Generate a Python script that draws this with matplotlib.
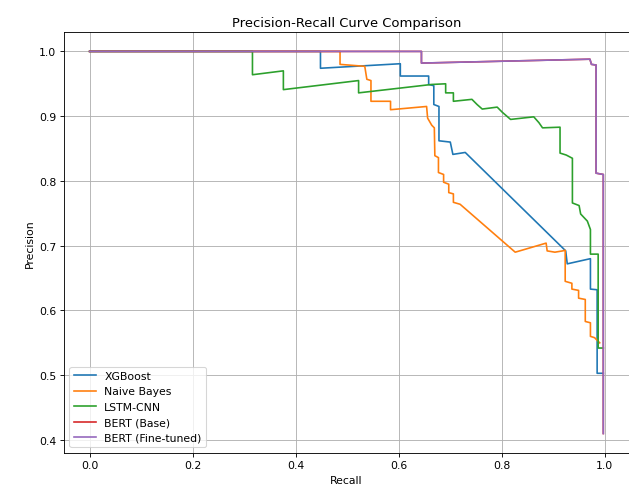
import matplotlib
matplotlib.use("Agg")
import matplotlib.pyplot as plt

# data (recall, precision pairs)
xgb_recall = [0.0, 0.448, 0.448, 0.603, 0.603, 0.658, 0.658, 0.668, 0.668, 0.678, 0.678,
              0.700, 0.705, 0.729, 0.924, 0.927, 0.972, 0.972, 0.985, 0.985, 0.997]
xgb_precision = [1.0, 1.0, 0.974, 0.981, 0.962, 0.962, 0.949, 0.947, 0.918, 0.915, 0.862,
                 0.860, 0.841, 0.844, 0.692, 0.672, 0.680, 0.633, 0.632, 0.503, 0.503]

nb_recall = [0.0, 0.486, 0.486, 0.534, 0.538, 0.546, 0.546, 0.584, 0.584, 0.654, 0.656,
             0.664, 0.669, 0.670, 0.677, 0.677, 0.687, 0.687, 0.697, 0.697, 0.706, 0.706,
             0.719, 0.826, 0.886, 0.888, 0.903, 0.918, 0.923, 0.923, 0.936, 0.936, 0.949,
             0.949, 0.962, 0.962, 0.972, 0.972, 0.980, 0.990]
nb_precision = [1.0, 1.0, 0.980, 0.977, 0.957, 0.955, 0.923, 0.923, 0.910, 0.915, 0.897,
                0.886, 0.882, 0.839, 0.836, 0.813, 0.810, 0.798, 0.795, 0.782, 0.780, 0.767,
                0.764, 0.690, 0.704, 0.692, 0.690, 0.692, 0.693, 0.645, 0.642, 0.633, 0.631,
                0.619, 0.617, 0.583, 0.581, 0.560, 0.558, 0.550]

lstm_recall = [0.0, 0.316, 0.316, 0.376, 0.376, 0.522, 0.522, 0.664, 0.691, 0.691, 0.706,
               0.706, 0.742, 0.752, 0.762, 0.791, 0.801, 0.817, 0.862, 0.872, 0.879, 0.913,
               0.913, 0.925, 0.937, 0.937, 0.950, 0.953, 0.966, 0.972, 0.972, 0.987, 0.987,
               0.997]
lstm_precision = [1.0, 1.0, 0.964, 0.970, 0.941, 0.955, 0.936, 0.949, 0.950, 0.936, 0.936,
                  0.923, 0.926, 0.918, 0.911, 0.914, 0.906, 0.895, 0.899, 0.890, 0.882, 0.883,
                  0.843, 0.840, 0.835, 0.766, 0.762, 0.749, 0.738, 0.725, 0.687, 0.687, 0.542,
                  0.542]

bert_ft_recall = [0.0, 0.644, 0.644, 0.971, 0.974, 0.983, 0.983, 0.997, 0.997]
bert_ft_precision = [1.0, 1.0, 0.982, 0.988, 0.980, 0.979, 0.812, 0.810, 0.41]

# base model curve sits underneath the fine-tuned one
bert_base_recall = list(bert_ft_recall)
bert_base_precision = list(bert_ft_precision)

fig = plt.figure(figsize=(8, 6.2575), dpi=78.625)
ax = fig.add_axes([0.1017, 0.0780, 0.8983, 0.8543])

ax.plot(xgb_recall, xgb_precision, label='XGBoost')
ax.plot(nb_recall, nb_precision, label='Naive Bayes')
ax.plot(lstm_recall, lstm_precision, label='LSTM-CNN')
ax.plot(bert_base_recall, bert_base_precision, label='BERT (Base)')
ax.plot(bert_ft_recall, bert_ft_precision, label='BERT (Fine-tuned)')

ax.set_xlabel('Recall')
ax.set_ylabel('Precision')
ax.set_title('Precision-Recall Curve Comparison')
ax.legend(loc='lower left')
ax.grid(True)

fig.savefig('out.png', dpi=78.625)
